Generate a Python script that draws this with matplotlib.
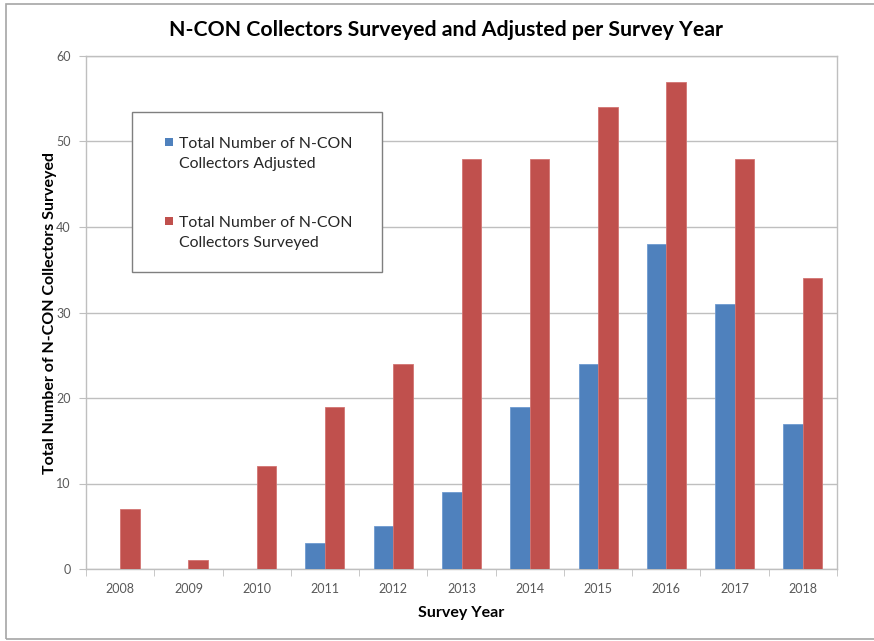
import numpy as np
import matplotlib.pyplot as plt
from matplotlib.patches import Rectangle

plt.rcParams['font.family'] = ['Lato', 'DejaVu Sans']

# Survey data
years = ["2008", "2009", "2010", "2011", "2012", "2013",
         "2014", "2015", "2016", "2017", "2018"]
adjusted = [0, 0, 0, 3, 5, 9, 19, 24, 38, 31, 17]
surveyed = [7, 1, 12, 19, 24, 48, 48, 54, 57, 48, 34]
series_labels = ["Total Number of N-CON\nCollectors Adjusted",
                 "Total Number of N-CON\nCollectors Surveyed"]

BLUE = "#4F81BD"
RED = "#C0504D"
GRID = "#BFBFBF"
TICK_TXT = "#595959"

W, H = 874, 641
fig = plt.figure(figsize=(W/100, H/100), dpi=100)
ax = fig.add_axes([86/W, 1-569/H, 751/W, 513/H])

x = np.arange(len(years))
w = 0.285
ax.bar(x - w/2, adjusted, w, color=BLUE, edgecolor="#6F9AD0", linewidth=0.6, zorder=3)
ax.bar(x + w/2, surveyed, w, color=RED, edgecolor="#D27472", linewidth=0.6, zorder=3)

ax.set_xlim(-0.5, len(years) - 0.5)
ax.set_ylim(0, 60)
ax.set_yticks(range(0, 61, 10))
ax.set_xticks(x)
ax.set_xticklabels(years)
ax.set_xticks(np.arange(-0.5, len(years), 1), minor=True)
ax.tick_params(axis="x", which="major", length=0, pad=10, labelsize=9, labelcolor=TICK_TXT)
ax.tick_params(axis="x", which="minor", length=5, color=GRID, direction="out")
ax.tick_params(axis="y", length=5, color=GRID, pad=6, labelsize=9, labelcolor=TICK_TXT)

ax.grid(axis="y", color=GRID, linewidth=1, zorder=0)
for s in ax.spines.values():
    s.set_color(GRID)
    s.set_linewidth(1)

ax.set_xlabel("Survey Year", fontsize=11.5, fontweight="bold", labelpad=8)
ax.set_ylabel("Total Number of N-CON Collectors Surveyed", fontsize=11.5,
              fontweight="bold", labelpad=-1)

fig.text(0.51, 0.953, "N-CON Collectors Surveyed and Adjusted per Survey Year",
         ha="center", va="center", fontsize=15.3, fontweight="bold")

# legend: framed box, square key next to the first line of each two-line label
def fx(px):
    return px / W

def fy(py):
    return 1 - py / H

fig.patches.append(Rectangle((fx(132), fy(272)), (382-132)/W, (272-112)/H,
                             transform=fig.transFigure, facecolor="white",
                             edgecolor="#7F7F7F", linewidth=1, zorder=5))
for i, (lab, col) in enumerate(zip(series_labels, [BLUE, RED])):
    top = 131 + i * 79
    fig.patches.append(Rectangle((fx(165), fy(top + 15)), 8/W, 8/H,
                                 transform=fig.transFigure, facecolor=col,
                                 edgecolor="none", zorder=6))
    fig.text(fx(179), fy(top + 6), lab, ha="left", va="top", fontsize=11.4,
             color="#262626", linespacing=1.55, zorder=6)

# outer frame around the chart
fig.patches.append(Rectangle((6/W, 2/H), 1.0, 635/H, transform=fig.transFigure,
                             fill=False, edgecolor="#A6A6A6", linewidth=1.2))

fig.savefig("out.png", dpi=100, facecolor="white")
